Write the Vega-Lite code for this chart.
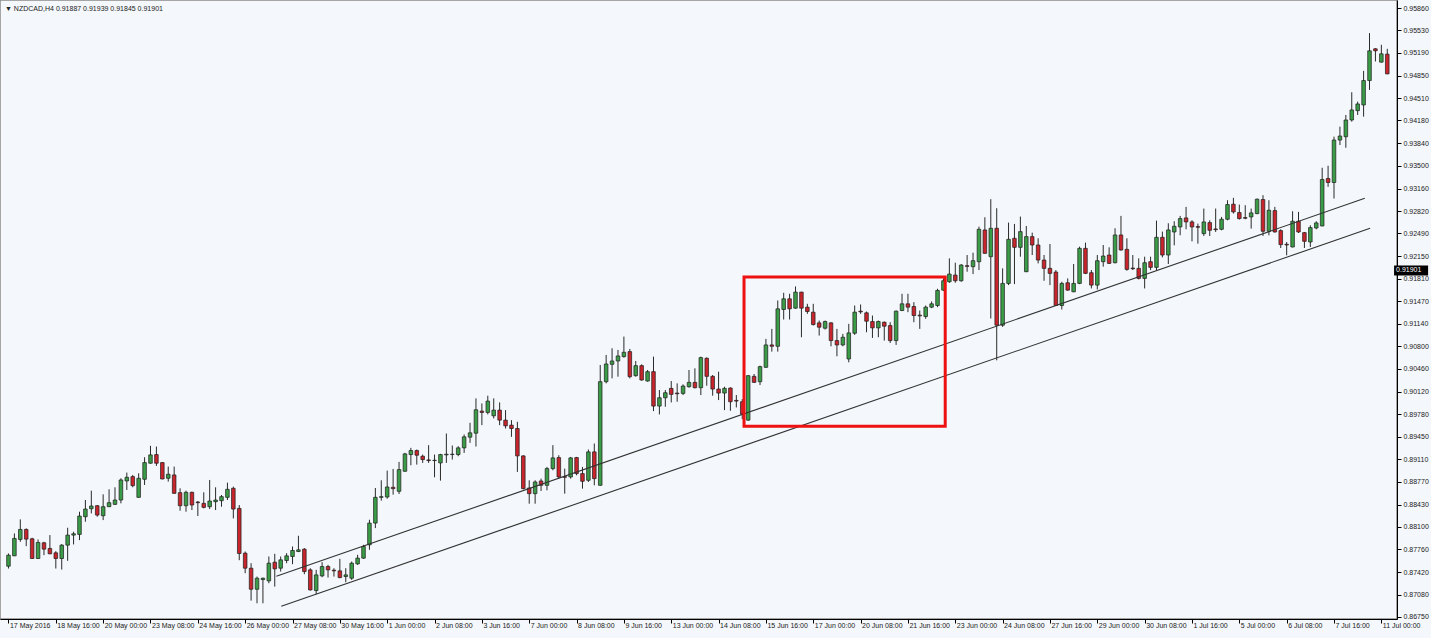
{
"$schema": "https://vega.github.io/schema/vega-lite/v6.json",
"width": 1397,
"height": 619,
"autosize": {"type": "none"},
"padding": {"left": 0, "top": 0, "right": 34, "bottom": 19},
"background": "#f4f7fb",
"config": {"view": {"fill": "#f4f7fb", "stroke": "#8a8a8a", "strokeWidth": 1.5}, "font": "Liberation Sans"},
"title": {"text": "▼ NZDCAD,H4  0.91887 0.91939 0.91845 0.91901", "anchor": "start", "frame": "group", "offset": -12, "fontSize": 7, "font": "Liberation Sans", "fontWeight": "normal", "color": "#222222", "dx": 5},
"datasets": {
"candles": [
{"i":0,"o":0.87510,"h":0.87700,"l":0.87475,"c":0.87675},
{"i":1,"o":0.87665,"h":0.88000,"l":0.87665,"c":0.87925},
{"i":2,"o":0.87910,"h":0.88210,"l":0.87875,"c":0.88060},
{"i":3,"o":0.88060,"h":0.88075,"l":0.87810,"c":0.87915},
{"i":4,"o":0.87920,"h":0.87935,"l":0.87620,"c":0.87625},
{"i":5,"o":0.87625,"h":0.87910,"l":0.87620,"c":0.87865},
{"i":6,"o":0.87860,"h":0.87875,"l":0.87675,"c":0.87765},
{"i":7,"o":0.87775,"h":0.87975,"l":0.87690,"c":0.87695},
{"i":8,"o":0.87710,"h":0.87735,"l":0.87475,"c":0.87625},
{"i":9,"o":0.87625,"h":0.87840,"l":0.87460,"c":0.87825},
{"i":10,"o":0.87825,"h":0.88085,"l":0.87590,"c":0.87975},
{"i":11,"o":0.87975,"h":0.88025,"l":0.87835,"c":0.87995},
{"i":12,"o":0.87985,"h":0.88325,"l":0.87900,"c":0.88260},
{"i":13,"o":0.88250,"h":0.88500,"l":0.88175,"c":0.88365},
{"i":14,"o":0.88370,"h":0.88640,"l":0.88300,"c":0.88410},
{"i":15,"o":0.88415,"h":0.88425,"l":0.88250,"c":0.88275},
{"i":16,"o":0.88265,"h":0.88585,"l":0.88200,"c":0.88400},
{"i":17,"o":0.88400,"h":0.88660,"l":0.88395,"c":0.88460},
{"i":18,"o":0.88435,"h":0.88690,"l":0.88425,"c":0.88500},
{"i":19,"o":0.88500,"h":0.88825,"l":0.88450,"c":0.88800},
{"i":20,"o":0.88785,"h":0.88910,"l":0.88650,"c":0.88840},
{"i":21,"o":0.88850,"h":0.88875,"l":0.88690,"c":0.88715},
{"i":22,"o":0.88540,"h":0.88900,"l":0.88535,"c":0.88825},
{"i":23,"o":0.88810,"h":0.89140,"l":0.88725,"c":0.89060},
{"i":24,"o":0.89050,"h":0.89310,"l":0.89045,"c":0.89175},
{"i":25,"o":0.89180,"h":0.89300,"l":0.89010,"c":0.89050},
{"i":26,"o":0.89060,"h":0.89065,"l":0.88810,"c":0.88815},
{"i":27,"o":0.88825,"h":0.89000,"l":0.88775,"c":0.88885},
{"i":28,"o":0.88875,"h":0.89000,"l":0.88595,"c":0.88600},
{"i":29,"o":0.88610,"h":0.88675,"l":0.88340,"c":0.88415},
{"i":30,"o":0.88415,"h":0.88640,"l":0.88325,"c":0.88615},
{"i":31,"o":0.88615,"h":0.88625,"l":0.88350,"c":0.88425},
{"i":32,"o":0.88470,"h":0.88485,"l":0.88260,"c":0.88460},
{"i":33,"o":0.88450,"h":0.88615,"l":0.88375,"c":0.88390},
{"i":34,"o":0.88400,"h":0.88800,"l":0.88365,"c":0.88485},
{"i":35,"o":0.88475,"h":0.88690,"l":0.88350,"c":0.88500},
{"i":36,"o":0.88490,"h":0.88575,"l":0.88400,"c":0.88550},
{"i":37,"o":0.88540,"h":0.88760,"l":0.88500,"c":0.88660},
{"i":38,"o":0.88675,"h":0.88700,"l":0.88225,"c":0.88365},
{"i":39,"o":0.88375,"h":0.88425,"l":0.87600,"c":0.87700},
{"i":40,"o":0.87705,"h":0.87730,"l":0.87405,"c":0.87480},
{"i":41,"o":0.87480,"h":0.87555,"l":0.86995,"c":0.87165},
{"i":42,"o":0.87165,"h":0.87355,"l":0.86955,"c":0.87330},
{"i":43,"o":0.87310,"h":0.87340,"l":0.86955,"c":0.87330},
{"i":44,"o":0.87290,"h":0.87655,"l":0.87255,"c":0.87555},
{"i":45,"o":0.87570,"h":0.87695,"l":0.87205,"c":0.87470},
{"i":46,"o":0.87480,"h":0.87655,"l":0.87430,"c":0.87605},
{"i":47,"o":0.87595,"h":0.87705,"l":0.87555,"c":0.87665},
{"i":48,"o":0.87655,"h":0.87805,"l":0.87540,"c":0.87745},
{"i":49,"o":0.87730,"h":0.87965,"l":0.87720,"c":0.87755},
{"i":50,"o":0.87765,"h":0.87780,"l":0.87390,"c":0.87430},
{"i":51,"o":0.87455,"h":0.87480,"l":0.87145,"c":0.87155},
{"i":52,"o":0.87145,"h":0.87455,"l":0.87090,"c":0.87380},
{"i":53,"o":0.87365,"h":0.87570,"l":0.87345,"c":0.87505},
{"i":54,"o":0.87505,"h":0.87530,"l":0.87340,"c":0.87455},
{"i":55,"o":0.87450,"h":0.87480,"l":0.87355,"c":0.87440},
{"i":56,"o":0.87440,"h":0.87620,"l":0.87330,"c":0.87340},
{"i":57,"o":0.87355,"h":0.87480,"l":0.87270,"c":0.87380},
{"i":58,"o":0.87330,"h":0.87580,"l":0.87305,"c":0.87555},
{"i":59,"o":0.87545,"h":0.87680,"l":0.87530,"c":0.87630},
{"i":60,"o":0.87630,"h":0.87830,"l":0.87620,"c":0.87805},
{"i":61,"o":0.87830,"h":0.88205,"l":0.87755,"c":0.88155},
{"i":62,"o":0.88155,"h":0.88680,"l":0.88080,"c":0.88540},
{"i":63,"o":0.88540,"h":0.88795,"l":0.88490,"c":0.88550},
{"i":64,"o":0.88545,"h":0.88940,"l":0.88520,"c":0.88695},
{"i":65,"o":0.88690,"h":0.88965,"l":0.88580,"c":0.88670},
{"i":66,"o":0.88630,"h":0.89070,"l":0.88590,"c":0.88955},
{"i":67,"o":0.88930,"h":0.89205,"l":0.88925,"c":0.89190},
{"i":68,"o":0.89180,"h":0.89280,"l":0.89020,"c":0.89240},
{"i":69,"o":0.89240,"h":0.89255,"l":0.89030,"c":0.89170},
{"i":70,"o":0.89155,"h":0.89180,"l":0.89055,"c":0.89105},
{"i":71,"o":0.89100,"h":0.89320,"l":0.89055,"c":0.89090},
{"i":72,"o":0.89090,"h":0.89180,"l":0.88840,"c":0.89095},
{"i":73,"o":0.89055,"h":0.89190,"l":0.88790,"c":0.89180},
{"i":74,"o":0.89175,"h":0.89495,"l":0.89055,"c":0.89185},
{"i":75,"o":0.89180,"h":0.89315,"l":0.89105,"c":0.89185},
{"i":76,"o":0.89180,"h":0.89305,"l":0.89155,"c":0.89280},
{"i":77,"o":0.89280,"h":0.89480,"l":0.89205,"c":0.89445},
{"i":78,"o":0.89440,"h":0.89655,"l":0.89355,"c":0.89505},
{"i":79,"o":0.89500,"h":0.90020,"l":0.89300,"c":0.89850},
{"i":80,"o":0.89830,"h":0.89945,"l":0.89620,"c":0.89810},
{"i":81,"o":0.89810,"h":0.90060,"l":0.89780,"c":0.89980},
{"i":82,"o":0.89760,"h":0.90020,"l":0.89720,"c":0.89845},
{"i":83,"o":0.89845,"h":0.89960,"l":0.89620,"c":0.89695},
{"i":84,"o":0.89695,"h":0.89845,"l":0.89570,"c":0.89610},
{"i":85,"o":0.89620,"h":0.89695,"l":0.89445,"c":0.89570},
{"i":86,"o":0.89570,"h":0.89670,"l":0.88920,"c":0.89160},
{"i":87,"o":0.89160,"h":0.89170,"l":0.88660,"c":0.88670},
{"i":88,"o":0.88680,"h":0.88795,"l":0.88445,"c":0.88595},
{"i":89,"o":0.88595,"h":0.88795,"l":0.88445,"c":0.88770},
{"i":90,"o":0.88785,"h":0.88820,"l":0.88635,"c":0.88720},
{"i":91,"o":0.88720,"h":0.88995,"l":0.88645,"c":0.88970},
{"i":92,"o":0.88970,"h":0.89320,"l":0.88945,"c":0.89130},
{"i":93,"o":0.89135,"h":0.89170,"l":0.88820,"c":0.88845},
{"i":94,"o":0.88850,"h":0.88970,"l":0.88595,"c":0.88840},
{"i":95,"o":0.88845,"h":0.89145,"l":0.88820,"c":0.89130},
{"i":96,"o":0.89135,"h":0.89145,"l":0.88870,"c":0.88895},
{"i":97,"o":0.88895,"h":0.88995,"l":0.88670,"c":0.88780},
{"i":98,"o":0.88795,"h":0.89255,"l":0.88770,"c":0.89220},
{"i":99,"o":0.89220,"h":0.89345,"l":0.88720,"c":0.88820},
{"i":100,"o":0.88720,"h":0.90520,"l":0.88715,"c":0.90270},
{"i":101,"o":0.90270,"h":0.90670,"l":0.90245,"c":0.90535},
{"i":102,"o":0.90530,"h":0.90770,"l":0.90320,"c":0.90580},
{"i":103,"o":0.90580,"h":0.90745,"l":0.90345,"c":0.90655},
{"i":104,"o":0.90645,"h":0.90945,"l":0.90630,"c":0.90710},
{"i":105,"o":0.90720,"h":0.90760,"l":0.90320,"c":0.90345},
{"i":106,"o":0.90360,"h":0.90580,"l":0.90345,"c":0.90510},
{"i":107,"o":0.90510,"h":0.90530,"l":0.90285,"c":0.90295},
{"i":108,"o":0.90280,"h":0.90445,"l":0.90270,"c":0.90420},
{"i":109,"o":0.90420,"h":0.90645,"l":0.89830,"c":0.89905},
{"i":110,"o":0.89905,"h":0.90145,"l":0.89780,"c":0.90030},
{"i":111,"o":0.90030,"h":0.90145,"l":0.89895,"c":0.90105},
{"i":112,"o":0.90170,"h":0.90280,"l":0.89960,"c":0.90080},
{"i":113,"o":0.90100,"h":0.90245,"l":0.89970,"c":0.90090},
{"i":114,"o":0.90095,"h":0.90230,"l":0.90070,"c":0.90205},
{"i":115,"o":0.90195,"h":0.90445,"l":0.90180,"c":0.90260},
{"i":116,"o":0.90260,"h":0.90470,"l":0.90170,"c":0.90180},
{"i":117,"o":0.90180,"h":0.90645,"l":0.90070,"c":0.90630},
{"i":118,"o":0.90620,"h":0.90635,"l":0.90210,"c":0.90350},
{"i":119,"o":0.90350,"h":0.90370,"l":0.90060,"c":0.90160},
{"i":120,"o":0.90160,"h":0.90420,"l":0.89995,"c":0.90100},
{"i":121,"o":0.90100,"h":0.90195,"l":0.89845,"c":0.90170},
{"i":122,"o":0.90175,"h":0.90185,"l":0.89835,"c":0.89970},
{"i":123,"o":0.89990,"h":0.90070,"l":0.89885,"c":0.89980},
{"i":124,"o":0.89970,"h":0.90010,"l":0.89710,"c":0.89785},
{"i":125,"o":0.89695,"h":0.90370,"l":0.89685,"c":0.90360},
{"i":126,"o":0.90350,"h":0.90385,"l":0.90250,"c":0.90260},
{"i":127,"o":0.90270,"h":0.90510,"l":0.90220,"c":0.90495},
{"i":128,"o":0.90485,"h":0.90910,"l":0.90480,"c":0.90820},
{"i":129,"o":0.90820,"h":0.91060,"l":0.90720,"c":0.90800},
{"i":130,"o":0.90800,"h":0.91485,"l":0.90720,"c":0.91360},
{"i":131,"o":0.91350,"h":0.91600,"l":0.91200,"c":0.91510},
{"i":132,"o":0.91510,"h":0.91585,"l":0.91200,"c":0.91360},
{"i":133,"o":0.91370,"h":0.91695,"l":0.91360,"c":0.91610},
{"i":134,"o":0.91610,"h":0.91615,"l":0.90935,"c":0.91370},
{"i":135,"o":0.91385,"h":0.91435,"l":0.91285,"c":0.91320},
{"i":136,"o":0.91310,"h":0.91435,"l":0.91110,"c":0.91125},
{"i":137,"o":0.91150,"h":0.91185,"l":0.90960,"c":0.91085},
{"i":138,"o":0.91070,"h":0.91185,"l":0.91050,"c":0.91170},
{"i":139,"o":0.91150,"h":0.91160,"l":0.90800,"c":0.90885},
{"i":140,"o":0.90885,"h":0.91060,"l":0.90650,"c":0.90820},
{"i":141,"o":0.90820,"h":0.90985,"l":0.90800,"c":0.90935},
{"i":142,"o":0.90610,"h":0.91135,"l":0.90560,"c":0.91000},
{"i":143,"o":0.90995,"h":0.91410,"l":0.90970,"c":0.91310},
{"i":144,"o":0.91325,"h":0.91425,"l":0.91285,"c":0.91315},
{"i":145,"o":0.91300,"h":0.91320,"l":0.91010,"c":0.91175},
{"i":146,"o":0.91170,"h":0.91260,"l":0.90925,"c":0.91075},
{"i":147,"o":0.91075,"h":0.91185,"l":0.90935,"c":0.91170},
{"i":148,"o":0.91160,"h":0.91170,"l":0.90885,"c":0.91100},
{"i":149,"o":0.91110,"h":0.91160,"l":0.90850,"c":0.90885},
{"i":150,"o":0.90885,"h":0.91335,"l":0.90820,"c":0.91325},
{"i":151,"o":0.91335,"h":0.91585,"l":0.91325,"c":0.91435},
{"i":152,"o":0.91435,"h":0.91585,"l":0.91310,"c":0.91385},
{"i":153,"o":0.91395,"h":0.91460,"l":0.91160,"c":0.91260},
{"i":154,"o":0.91265,"h":0.91335,"l":0.91060,"c":0.91255},
{"i":155,"o":0.91245,"h":0.91410,"l":0.91210,"c":0.91385},
{"i":156,"o":0.91385,"h":0.91470,"l":0.91370,"c":0.91435},
{"i":157,"o":0.91410,"h":0.91660,"l":0.91385,"c":0.91635},
{"i":158,"o":0.91640,"h":0.91815,"l":0.91630,"c":0.91780},
{"i":159,"o":0.91765,"h":0.92115,"l":0.91750,"c":0.91880},
{"i":160,"o":0.91865,"h":0.92050,"l":0.91750,"c":0.91780},
{"i":161,"o":0.91780,"h":0.92030,"l":0.91765,"c":0.92015},
{"i":162,"o":0.92005,"h":0.92165,"l":0.91915,"c":0.91995},
{"i":163,"o":0.91990,"h":0.92200,"l":0.91880,"c":0.92080},
{"i":164,"o":0.92065,"h":0.92590,"l":0.91940,"c":0.92550},
{"i":165,"o":0.92540,"h":0.92730,"l":0.92185,"c":0.92190},
{"i":166,"o":0.92140,"h":0.93000,"l":0.91215,"c":0.92565},
{"i":167,"o":0.92565,"h":0.92865,"l":0.90590,"c":0.91115},
{"i":168,"o":0.91115,"h":0.91965,"l":0.91090,"c":0.91740},
{"i":169,"o":0.91740,"h":0.92650,"l":0.91715,"c":0.92400},
{"i":170,"o":0.92415,"h":0.92630,"l":0.91730,"c":0.92280},
{"i":171,"o":0.92280,"h":0.92740,"l":0.92140,"c":0.92515},
{"i":172,"o":0.91915,"h":0.92600,"l":0.91910,"c":0.92440},
{"i":173,"o":0.92440,"h":0.92500,"l":0.92165,"c":0.92315},
{"i":174,"o":0.92315,"h":0.92415,"l":0.92040,"c":0.92090},
{"i":175,"o":0.92090,"h":0.92165,"l":0.91780,"c":0.91965},
{"i":176,"o":0.91965,"h":0.92330,"l":0.91715,"c":0.91890},
{"i":177,"o":0.91910,"h":0.91940,"l":0.91405,"c":0.91410},
{"i":178,"o":0.91410,"h":0.91765,"l":0.91350,"c":0.91740},
{"i":179,"o":0.91750,"h":0.91815,"l":0.91630,"c":0.91640},
{"i":180,"o":0.91615,"h":0.92030,"l":0.91610,"c":0.91740},
{"i":181,"o":0.91740,"h":0.92290,"l":0.91730,"c":0.92265},
{"i":182,"o":0.92265,"h":0.92350,"l":0.91880,"c":0.91890},
{"i":183,"o":0.91900,"h":0.91940,"l":0.91665,"c":0.91715},
{"i":184,"o":0.91715,"h":0.92165,"l":0.91650,"c":0.92080},
{"i":185,"o":0.92065,"h":0.92315,"l":0.91990,"c":0.92150},
{"i":186,"o":0.92165,"h":0.92280,"l":0.92030,"c":0.92040},
{"i":187,"o":0.92050,"h":0.92565,"l":0.92040,"c":0.92465},
{"i":188,"o":0.92465,"h":0.92750,"l":0.92230,"c":0.92240},
{"i":189,"o":0.92250,"h":0.92415,"l":0.91930,"c":0.91950},
{"i":190,"o":0.91970,"h":0.92165,"l":0.91940,"c":0.91960},
{"i":191,"o":0.91965,"h":0.92115,"l":0.91800,"c":0.91815},
{"i":192,"o":0.91815,"h":0.92140,"l":0.91665,"c":0.92050},
{"i":193,"o":0.92065,"h":0.92140,"l":0.91940,"c":0.91980},
{"i":194,"o":0.91980,"h":0.92680,"l":0.91940,"c":0.92430},
{"i":195,"o":0.92430,"h":0.92515,"l":0.92130,"c":0.92165},
{"i":196,"o":0.92165,"h":0.92640,"l":0.92030,"c":0.92540},
{"i":197,"o":0.92510,"h":0.92670,"l":0.92310,"c":0.92595},
{"i":198,"o":0.92585,"h":0.92750,"l":0.92460,"c":0.92710},
{"i":199,"o":0.92720,"h":0.92885,"l":0.92550,"c":0.92660},
{"i":200,"o":0.92660,"h":0.92685,"l":0.92370,"c":0.92585},
{"i":201,"o":0.92590,"h":0.92635,"l":0.92335,"c":0.92580},
{"i":202,"o":0.92485,"h":0.92860,"l":0.92450,"c":0.92660},
{"i":203,"o":0.92650,"h":0.92685,"l":0.92450,"c":0.92535},
{"i":204,"o":0.92555,"h":0.92860,"l":0.92510,"c":0.92545},
{"i":205,"o":0.92550,"h":0.92735,"l":0.92535,"c":0.92700},
{"i":206,"o":0.92700,"h":0.92985,"l":0.92685,"c":0.92920},
{"i":207,"o":0.92925,"h":0.93020,"l":0.92785,"c":0.92810},
{"i":208,"o":0.92800,"h":0.92920,"l":0.92695,"c":0.92710},
{"i":209,"o":0.92725,"h":0.92910,"l":0.92700,"c":0.92715},
{"i":210,"o":0.92735,"h":0.92860,"l":0.92560,"c":0.92795},
{"i":211,"o":0.92785,"h":0.93010,"l":0.92775,"c":0.93000},
{"i":212,"o":0.92995,"h":0.93060,"l":0.92450,"c":0.92520},
{"i":213,"o":0.92520,"h":0.92985,"l":0.92460,"c":0.92835},
{"i":214,"o":0.92830,"h":0.92885,"l":0.92500,"c":0.92510},
{"i":215,"o":0.92530,"h":0.92550,"l":0.92270,"c":0.92320},
{"i":216,"o":0.92325,"h":0.92360,"l":0.92160,"c":0.92315},
{"i":217,"o":0.92285,"h":0.92820,"l":0.92280,"c":0.92670},
{"i":218,"o":0.92670,"h":0.92810,"l":0.92495,"c":0.92510},
{"i":219,"o":0.92500,"h":0.92510,"l":0.92270,"c":0.92370},
{"i":220,"o":0.92360,"h":0.92610,"l":0.92285,"c":0.92575},
{"i":221,"o":0.92570,"h":0.92670,"l":0.92550,"c":0.92645},
{"i":222,"o":0.92600,"h":0.93470,"l":0.92595,"c":0.93295},
{"i":223,"o":0.93310,"h":0.93500,"l":0.93185,"c":0.93250},
{"i":224,"o":0.93250,"h":0.93935,"l":0.93010,"c":0.93885},
{"i":225,"o":0.93885,"h":0.94085,"l":0.93810,"c":0.93945},
{"i":226,"o":0.93935,"h":0.94260,"l":0.93770,"c":0.94185},
{"i":227,"o":0.94185,"h":0.94600,"l":0.94160,"c":0.94335},
{"i":228,"o":0.94325,"h":0.94460,"l":0.94260,"c":0.94425},
{"i":229,"o":0.94410,"h":0.94920,"l":0.94235,"c":0.94775},
{"i":230,"o":0.94775,"h":0.95485,"l":0.94635,"c":0.95220},
{"i":231,"o":0.95250,"h":0.95260,"l":0.95060,"c":0.95220},
{"i":232,"o":0.95050,"h":0.95310,"l":0.95045,"c":0.95175},
{"i":233,"o":0.95170,"h":0.95250,"l":0.94870,"c":0.94875}
],
"lines": [
{"line":"upper","i":45.27,"p":0.87359},
{"line":"upper","i":229.2,"p":0.93013},
{"line":"lower","i":46.1,"p":0.86910},
{"line":"lower","i":230.1,"p":0.92565}
],
"box": [{"i0":124.3,"i1":158.3,"p0":0.91836,"p1":0.89603}],
"tag": [{"i0":234.15,"i1":239.9,"p0":0.91860,"p1":0.92010,"p":0.91935,"label":"0.91901"}]
},
"layer": [
{
"data": {"name": "candles"},
"mark": {"type": "rule", "color": "#2a2a2a", "strokeWidth": 1},
"encoding": {
"x": {"field": "i", "type": "quantitative", "title": null,
 "scale": {"domain": [-0.587, 233.8], "nice": false, "zero": false},
 "axis": {"orient": "bottom", "grid": false, "tickCount": 40,
  "values": [0,8,16,24,32,40,48,56,64,72,80,88,96,104,112,120,128,136,144,152,160,168,176,184,192,200,208,216,224,232],
  "labelExpr": "['17 May 2016','18 May 16:00','20 May 00:00','23 May 08:00','24 May 16:00','26 May 00:00','27 May 08:00','30 May 16:00','1 Jun 00:00','2 Jun 08:00','3 Jun 16:00','7 Jun 00:00','8 Jun 08:00','9 Jun 16:00','13 Jun 00:00','14 Jun 08:00','15 Jun 16:00','17 Jun 00:00','20 Jun 08:00','21 Jun 16:00','23 Jun 00:00','24 Jun 08:00','27 Jun 16:00','29 Jun 00:00','30 Jun 08:00','1 Jul 16:00','5 Jul 00:00','6 Jul 08:00','7 Jul 16:00','11 Jul 00:00'][round(datum.value/8)]",
  "labelAlign": "left", "labelOffset": 1, "labelPadding": -2, "tickSize": 4,
  "labelFont": "Liberation Sans", "labelFontSize": 7, "labelColor": "#222222",
  "labelOverlap": false, "labelFlush": false, "labelBound": false,
  "domainColor": "#000000", "tickColor": "#000000"}},
"y": {"field": "l", "type": "quantitative", "title": null,
 "scale": {"domain": [0.8672, 0.9598], "nice": false, "zero": false},
 "axis": {"orient": "right", "grid": false, "tickCount": 40,
  "values": [0.9586,0.9553,0.9519,0.9485,0.9451,0.9418,0.9384,0.935,0.9316,0.9282,0.9249,0.9215,0.9181,0.9147,0.9114,0.908,0.9046,0.9012,0.8978,0.8945,0.8911,0.8877,0.8843,0.881,0.8776,0.8742,0.8708,0.8675],
  "format": ".5f", "labelFont": "Liberation Sans", "labelFontSize": 7, "labelColor": "#222222",
  "tickSize": 4, "labelPadding": 2, "labelOverlap": false, "labelFlush": false, "labelBound": false,
  "domainColor": "#000000", "tickColor": "#000000"}},
"y2": {"field": "h"}
}
},
{
"data": {"name": "candles"},
"mark": {"type": "bar", "width": 3.6, "stroke": "#1c1c1c", "strokeWidth": 0.7},
"encoding": {
"x": {"field": "i", "type": "quantitative", "title": null},
"y": {"field": "o", "type": "quantitative", "title": null},
"y2": {"field": "c"},
"color": {"condition": {"test": "datum.c >= datum.o", "value": "#3b9c47"}, "value": "#c8252c"}
}
},
{
"data": {"name": "lines"},
"mark": {"type": "line", "color": "#333333", "strokeWidth": 1.1},
"encoding": {
"x": {"field": "i", "type": "quantitative", "title": null},
"y": {"field": "p", "type": "quantitative", "title": null},
"detail": {"field": "line"}
}
},
{
"data": {"name": "box"},
"mark": {"type": "rect", "fill": null, "fillOpacity": 0, "stroke": "#ee1111", "strokeWidth": 3},
"encoding": {
"x": {"field": "i0", "type": "quantitative", "title": null},
"x2": {"field": "i1"},
"y": {"field": "p0", "type": "quantitative", "title": null},
"y2": {"field": "p1"}
}
},
{
"data": {"name": "tag"},
"mark": {"type": "rect", "fill": "#000000"},
"encoding": {
"x": {"field": "i0", "type": "quantitative", "title": null},
"x2": {"field": "i1"},
"y": {"field": "p0", "type": "quantitative", "title": null},
"y2": {"field": "p1"}
}
},
{
"data": {"name": "tag"},
"mark": {"type": "text", "color": "#ffffff", "font": "Liberation Sans", "fontSize": 7, "align": "left", "baseline": "middle", "dx": 2},
"encoding": {
"x": {"field": "i0", "type": "quantitative", "title": null},
"y": {"field": "p", "type": "quantitative", "title": null},
"text": {"field": "label"}
}
}
]
}
